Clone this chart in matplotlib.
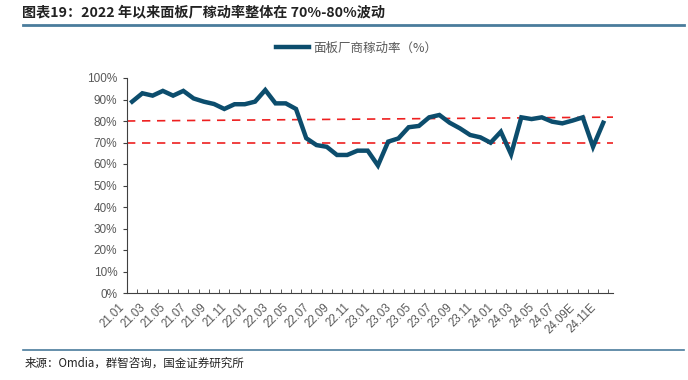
import numpy as np
import matplotlib.pyplot as plt
from matplotlib.lines import Line2D
import matplotlib.transforms as mtransforms

plt.rcParams['font.family'] = ['Noto Sans CJK SC', 'DejaVu Sans']

# 月份（21.01 - 24.11E）
months = ['21.01', '21.02', '21.03', '21.04', '21.05', '21.06', '21.07', '21.08',
          '21.09', '21.10', '21.11', '21.12', '22.01', '22.02', '22.03', '22.04',
          '22.05', '22.06', '22.07', '22.08', '22.09', '22.10', '22.11', '22.12',
          '23.01', '23.02', '23.03', '23.04', '23.05', '23.06', '23.07', '23.08',
          '23.09', '23.10', '23.11', '23.12', '24.01', '24.02', '24.03', '24.04',
          '24.05', '24.06', '24.07', '24.08', '24.09E', '24.10E', '24.11E']
# 面板厂商稼动率 (%)
rate = [89.0, 92.9, 91.8, 94.0, 91.8, 94.0, 90.5, 89.0, 87.9, 85.6,
        87.8, 87.8, 89.0, 94.4, 88.2, 88.2, 85.6, 72.0, 68.8, 68.0,
        64.2, 64.2, 66.2, 66.2, 59.3, 70.4, 71.9, 77.1, 77.7, 81.7,
        82.8, 79.2, 76.6, 73.5, 72.4, 69.9, 75.0, 64.5, 81.7, 80.9,
        81.7, 79.7, 78.9, 80.2, 81.7, 68.0, 79.2]
# 参考虚线 (左端, 右端)
ref_hi = [80.0, 81.8]
ref_lo = [70.0, 70.0]

yticks = [0, 10, 20, 30, 40, 50, 60, 70, 80, 90, 100]

fig = plt.figure(figsize=(6.88, 3.80), dpi=100)
ax = fig.add_axes([127/688, 87/380, 486/688, 215/380])

x = np.arange(len(months))
xmin, xmax = -0.5, len(months) - 0.05
line_col = '#0c4d6d'

ax.plot([xmin, xmax], ref_hi, color='#ee2020', lw=1.2, dashes=(5, 4))
ax.plot([xmin, xmax], ref_lo, color='#ee2020', lw=1.2, dashes=(5, 4))
ax.plot(x, rate, color=line_col, lw=3.2, solid_joinstyle='miter', zorder=3)

ax.set_xlim(xmin, xmax)
ax.set_ylim(0, 100)
for s in ['top', 'right']:
    ax.spines[s].set_visible(False)
ax.spines['left'].set_color('#404040')
ax.spines['bottom'].set_color('#404040')

ax.set_yticks(yticks)
ax.set_yticklabels([f'{v}%' for v in yticks], color='#595959', fontsize=8.5,
                   family=['Liberation Sans', 'DejaVu Sans'])
ax.tick_params(axis='y', direction='out', length=3, color='#404040', pad=4)

ax.set_xticks(x[::2])
ax.set_xticklabels(months[::2], rotation=45, ha='right', color='#595959', fontsize=8.3,
                   family=['Liberation Sans', 'DejaVu Sans'])
ax.set_xticks(np.arange(-0.5, len(months), 1), minor=True)
ax.tick_params(axis='x', which='major', length=0, pad=6)
ax.tick_params(axis='x', which='minor', direction='in', length=3, color='#404040')
off = mtransforms.ScaledTranslation(-5/100, 0, fig.dpi_scale_trans)
for lab in ax.get_xticklabels():
    lab.set_transform(lab.get_transform() + off)

handle = Line2D([], [], color=line_col, lw=3.2)
fig.legend([handle], ['面板厂商稼动率（%）'], loc='center', bbox_to_anchor=(357/688, 1 - 48/380),
           frameon=False, fontsize=9, labelcolor='#595959', handlelength=2.6, handletextpad=0.4)

fig.text(22/688, 1 - 12/380, '图表19：2022 年以来面板厂稼动率整体在 70%-80%波动',
         fontsize=10.2, fontweight='bold', style='italic', color='#222222', va='center', ha='left')
fig.add_artist(Line2D([23/688, 684/688], [1 - 25/380, 1 - 25/380], color='#4a7c9c', lw=2))
fig.add_artist(Line2D([23/688, 684/688], [1 - 350/380, 1 - 350/380], color='#4a7c9c', lw=1.2))
fig.text(25/688, 1 - 363/380, '来源：Omdia，群智咨询，国金证券研究所',
         fontsize=8.3, color='#222222', va='center', ha='left')

fig.savefig('out.png', dpi=100)
